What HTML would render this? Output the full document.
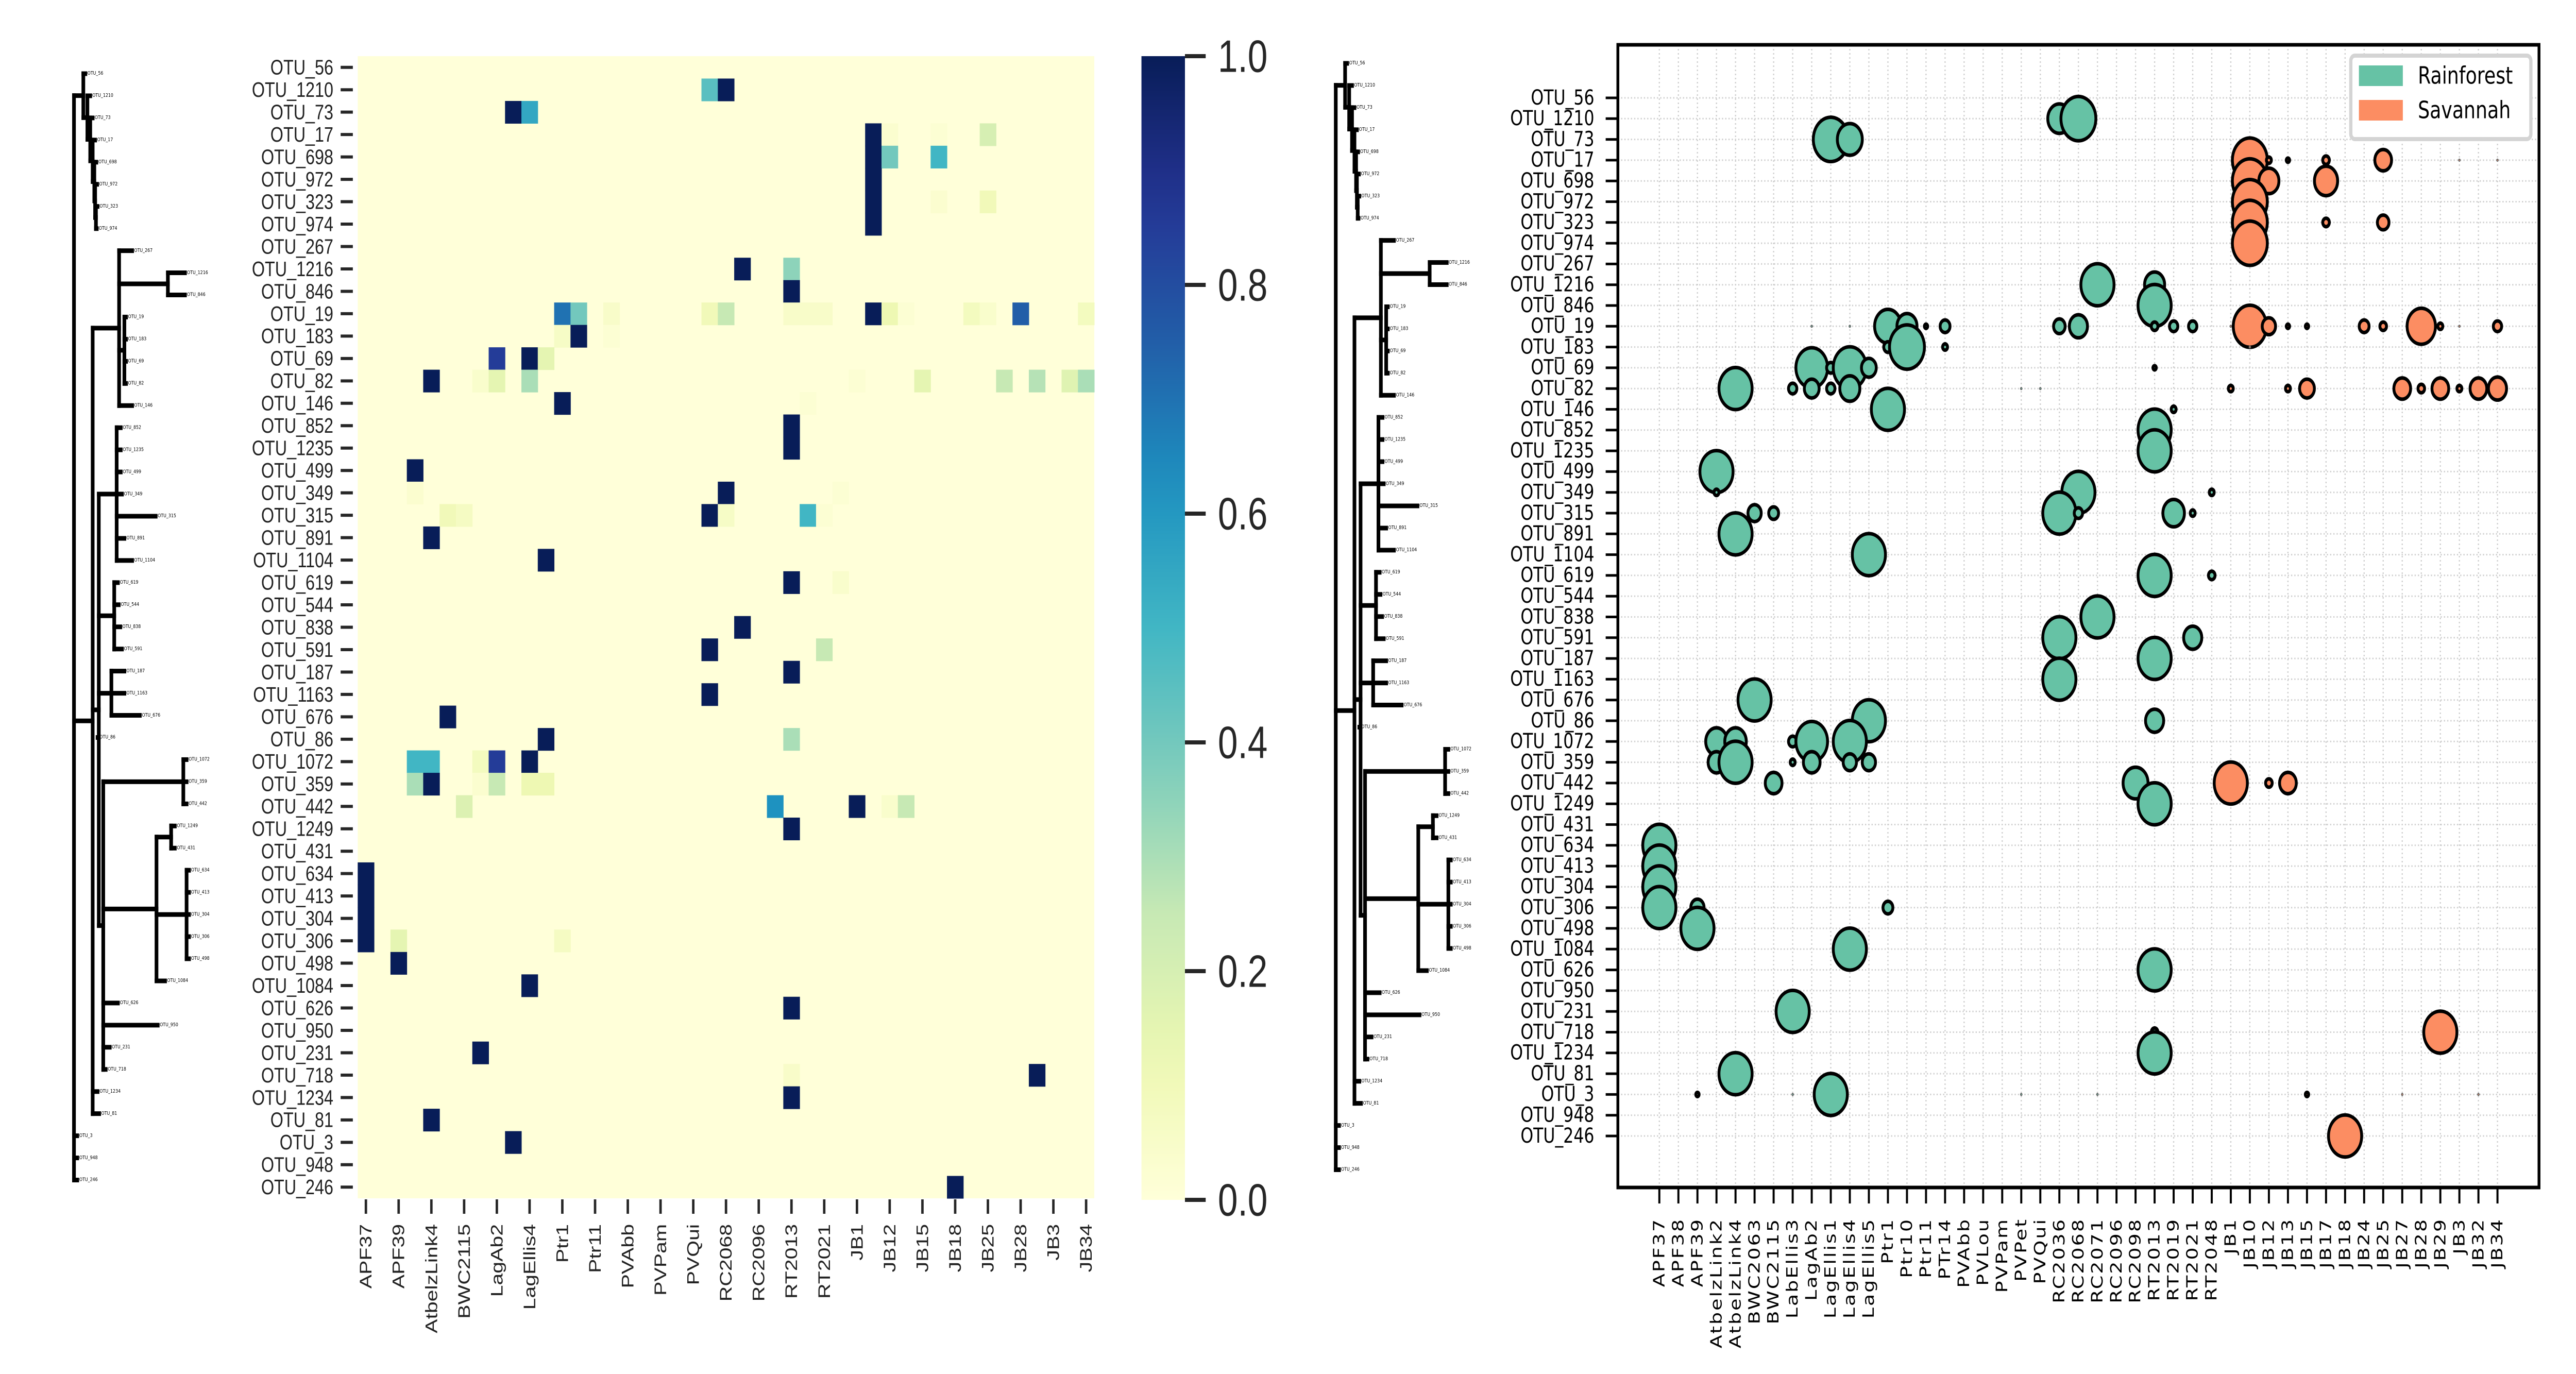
<!DOCTYPE html>
<html><head><meta charset="utf-8"><style>html,body{margin:0;padding:0;background:#fff;width:100%;height:100%;overflow:hidden}svg{display:block;position:fixed;left:0;top:0;width:100vw;height:100vh}</style></head>
<body>
<svg id="fig" xmlns="http://www.w3.org/2000/svg" viewBox="0 0 6337 2667" preserveAspectRatio="none">
<rect width="6337" height="2667" fill="#fff"/>
<g id="dendroL"></g>
<g id="heat"></g>
<g id="cbar"></g>
<g id="dendroM"></g>
<g id="bubble"></g>
</svg>
<script>
const otus = ["OTU_56","OTU_1210","OTU_73","OTU_17","OTU_698","OTU_972","OTU_323","OTU_974","OTU_267","OTU_1216","OTU_846","OTU_19","OTU_183","OTU_69","OTU_82","OTU_146","OTU_852","OTU_1235","OTU_499","OTU_349","OTU_315","OTU_891","OTU_1104","OTU_619","OTU_544","OTU_838","OTU_591","OTU_187","OTU_1163","OTU_676","OTU_86","OTU_1072","OTU_359","OTU_442","OTU_1249","OTU_431","OTU_634","OTU_413","OTU_304","OTU_306","OTU_498","OTU_1084","OTU_626","OTU_950","OTU_231","OTU_718","OTU_1234","OTU_81","OTU_3","OTU_948","OTU_246"];
const samples = ["APF37","APF38","APF39","AtbelzLink2","AtbelzLink4","BWC2063","BWC2115","LabEllis3","LagAb2","LagEllis1","LagEllis4","LagEllis5","Ptr1","Ptr10","Ptr11","PTr14","PVAbb","PVLou","PVPam","PVPet","PVQui","RC2036","RC2068","RC2071","RC2096","RC2098","RT2013","RT2019","RT2021","RT2048","JB1","JB10","JB12","JB13","JB15","JB17","JB18","JB24","JB25","JB27","JB28","JB29","JB3","JB32","JB34"];
const heatXLabels = ["APF37","APF39","AtbelzLink4","BWC2115","LagAb2","LagEllis4","Ptr1","Ptr11","PVAbb","PVPam","PVQui","RC2068","RC2096","RT2013","RT2021","JB1","JB12","JB15","JB18","JB25","JB28","JB3","JB34"];
const cbarTicks = [0,0.2,0.4,0.6,0.8,1.0];
const cbarTickLabels = ["0.0","0.2","0.4","0.6","0.8","1.0"];
const hRows = [1,1,2,2,3,3,3,3,4,4,4,5,6,6,6,7,9,9,10,11,11,11,11,11,11,11,11,11,11,11,11,11,11,11,12,12,12,13,13,13,14,14,14,14,14,14,14,14,14,14,15,15,16,17,18,19,19,19,20,20,20,20,20,20,21,22,23,23,25,26,26,27,28,29,30,30,31,31,31,31,31,32,32,32,32,32,32,33,33,33,33,33,34,36,37,38,39,39,39,40,41,42,44,45,45,46,47,48,50];
const hCols = [21,22,9,10,31,32,35,38,31,32,35,31,31,35,38,31,23,26,26,12,13,15,21,22,26,27,28,31,32,33,37,38,40,44,12,13,15,8,10,11,4,7,8,10,30,34,39,41,43,44,12,27,26,26,3,3,22,29,5,6,21,22,27,28,4,11,26,29,23,21,28,26,21,5,11,26,3,4,7,8,10,3,4,7,8,10,11,6,25,30,32,33,26,0,0,0,0,2,12,2,10,26,7,26,41,26,4,9,36];
const hVals = [0.45,1,1,0.55,1,0.03,0.02,0.2,1,0.4,0.5,1,1,0.03,0.1,1,1,0.35,1,0.7,0.4,0.05,0.1,0.25,0.05,0.05,0.05,1,0.12,0.02,0.08,0.04,0.75,0.08,0.06,1,0.02,0.85,1,0.15,1,0.04,0.15,0.3,0.02,0.15,0.25,0.28,0.17,0.3,1,0.02,1,1,1,0.03,1,0.02,0.1,0.07,1,0.06,0.5,0.02,1,1,1,0.04,1,1,0.25,1,1,1,1,0.3,0.5,0.5,0.08,0.85,1,0.3,1,0.03,0.25,0.12,0.12,0.18,0.62,1,0.04,0.25,1,1,1,1,1,0.15,0.07,1,1,1,1,0.05,1,1,1,1,1];
const bRows = [1,1,2,2,3,3,3,3,3,3,3,4,4,4,5,6,6,6,7,9,9,10,11,11,11,11,11,11,11,11,11,11,11,11,11,11,11,11,11,11,11,11,11,11,12,12,12,12,13,13,13,13,13,14,14,14,14,14,14,14,14,14,14,14,14,14,14,14,14,15,15,16,17,18,19,19,19,20,20,20,20,20,20,21,22,23,23,25,26,26,27,28,29,30,30,31,31,31,31,31,32,32,32,32,32,32,33,33,33,33,33,34,36,37,38,39,39,39,40,41,42,44,45,45,46,47,48,48,48,48,48,48,48,48,50];
const bCols = [21,22,9,10,31,32,33,35,38,42,44,31,32,35,31,31,35,38,31,23,26,26,8,10,12,13,14,15,21,22,26,27,28,30,31,32,33,34,37,38,40,41,42,44,12,13,15,31,8,9,10,11,26,4,7,8,9,10,19,20,30,33,34,39,40,41,42,43,44,12,27,26,26,3,3,22,29,5,6,21,22,27,28,4,11,26,29,23,21,28,26,21,5,11,26,3,4,7,8,10,3,4,7,8,10,11,6,25,30,32,33,26,0,0,0,0,2,12,2,10,26,7,26,41,26,4,2,7,9,19,23,34,39,43,36];
const bVals = [0.44,1,1,0.51,1,0.02,0.009,0.036,0.23,0.002,0.002,1,0.33,0.44,1,1,0.036,0.11,1,0.9,0.33,0.9,0.002,0.002,0.58,0.33,0.009,0.08,0.11,0.27,0.036,0.057,0.057,0.002,0.9,0.145,0.009,0.009,0.08,0.036,0.66,0.02,0.002,0.057,0.057,1,0.02,0.002,0.82,0.057,0.9,0.18,0.009,0.9,0.057,0.18,0.057,0.33,0.002,0.002,0.02,0.02,0.18,0.23,0.036,0.23,0.02,0.23,0.27,0.9,0.02,0.9,0.9,0.9,0.02,0.9,0.02,0.145,0.08,0.9,0.057,0.38,0.02,0.9,0.9,0.9,0.036,0.9,0.9,0.27,0.9,0.9,0.9,0.9,0.27,0.38,0.38,0.057,0.82,0.9,0.23,0.9,0.02,0.23,0.145,0.145,0.23,0.51,0.9,0.036,0.23,0.9,0.9,0.9,0.9,0.9,0.145,0.08,0.9,0.9,0.9,0.9,0.036,0.9,0.9,0.9,0.009,0.002,0.9,0.002,0.002,0.009,0.002,0.002,0.9];
const habitats = ["Rainforest","Savannah"];
const habitatColors = ["#66c2a5","#fc8d62"];

const NS="http://www.w3.org/2000/svg";
function mk(tag, attrs, parent){const e=document.createElementNS(NS,tag);for(const k in attrs)e.setAttribute(k,attrs[k]);parent.appendChild(e);return e;}

const cmStops=["#ffffd9","#edf8b1","#c7e9b4","#7fcdbb","#41b6c4","#1d91c0","#225ea8","#253494","#081d58"];
function hex2rgb(h){return [parseInt(h.substr(1,2),16),parseInt(h.substr(3,2),16),parseInt(h.substr(5,2),16)];}
function cmap(v){v=Math.max(0,Math.min(1,v));const p=v*8;const i=Math.min(7,Math.floor(p));const f=p-i;const a=hex2rgb(cmStops[i]),b=hex2rgb(cmStops[i+1]);return "rgb("+a.map((x,k)=>Math.round(x+(b[k]-x)*f)).join(",")+")";}

const heat=document.getElementById('heat');
const HX0=880,HY0=109,HX1=2692,HY1=2326;
const nC=samples.length,nR=otus.length;
const cw=(HX1-HX0)/nC,ch=(HY1-HY0)/nR;
const hx=c=>HX0+c*cw, hy=r=>HY0+r*ch;
const bg=mk('rect',{x:HX0,y:HY0,width:HX1-HX0,height:HY1-HY0,fill:cmap(0)},heat);


for(let i=0;i<hRows.length;i++){
  const r=mk('rect',{x:hx(hCols[i]),y:hy(hRows[i]),width:cw+0.6,height:ch+0.6,fill:cmap(hVals[i])},heat);
  
  
}
for(let r=0;r<nR;r++){
  const y=hy(r)+ch/2;
  const t=mk('line',{x1:838,x2:868,y1:y,y2:y,stroke:'#262626','stroke-width':6},heat);
  
  
  const l=mk('text',{x:820,y:y,'text-anchor':'end','dominant-baseline':'central','font-family':'Liberation Sans, sans-serif','font-size':41,fill:'#222'},heat);
  l.textContent=otus[r];
  
  
}
for(let k=0;k<heatXLabels.length;k++){
  const x=hx(2*k)+cw/2;
  const t=mk('line',{x1:x,x2:x,y1:2328,y2:2356,stroke:'#262626','stroke-width':6},heat);
  
  
  const l=mk('text',{transform:'translate('+x+',2376) rotate(-90)','text-anchor':'end','dominant-baseline':'central','font-family':'Liberation Sans, sans-serif','font-size':41,fill:'#222'},heat);
  l.textContent=heatXLabels[k];
  
  
}

const cbar=document.getElementById('cbar');
const CX0=2808,CX1=2915,CY0=109,CY1=2329;
const defs=mk('defs',{},cbar);
const grad=mk('linearGradient',{id:'ylgnbu',x1:0,y1:1,x2:0,y2:0},defs);
for(let i=0;i<=20;i++){mk('stop',{offset:(i/20),'stop-color':cmap(i/20)},grad);}
const cb=mk('rect',{x:CX0,y:CY0,width:CX1-CX0,height:CY1-CY0,fill:'url(#ylgnbu)'},cbar);


const cy=v=>CY1-(CY1-CY0)*v;
for(let i=0;i<cbarTicks.length;i++){
  const y=cy(cbarTicks[i]);
  const t=mk('line',{x1:CX1,x2:2966,y1:y,y2:y,stroke:'#262626','stroke-width':8},cbar);
  
  
  const l=mk('text',{x:2996,y:y,'dominant-baseline':'central','font-family':'Liberation Sans, sans-serif','font-size':88,fill:'#262626'},cbar);
  l.textContent=cbarTickLabels[i];
  
  
}

function L(i,x){return {leaf:i,x:x};}
function N(x,ch){return {x:x,ch:ch};}
const tree = N(182,[
  N(205,[L(0,210),N(215,[L(1,222),N(222,[L(2,228),N(228,[L(3,234),N(232,[L(4,237),N(234,[L(5,239),N(236,[L(6,240),L(7,238)])])])])])])]),
  N(228,[
    N(293,[L(8,325),N(413,[L(9,455),L(10,455)]),N(306,[L(11,310),L(12,310),L(13,310),L(14,310)]),L(15,325)]),
    N(243,[
      N(287,[L(16,297),L(17,297),L(18,297),L(19,300),L(20,383),L(21,306),L(22,325)]),
      N(281,[L(23,290),L(24,292),L(25,296),L(26,300)]),
      N(274,[L(27,306),L(28,306),L(29,344)]),
      L(30,240),
      N(254,[N(451,[L(31,459),L(32,459),L(33,459)]),
             N(385,[N(421,[L(34,430),L(35,430)]),N(459,[L(36,465),L(37,465),L(38,465),L(39,465),L(40,465)]),L(41,406)]),
             L(42,290),L(43,388),L(44,270),L(45,260)])
    ]),
    L(46,240),L(47,244)
  ]),
  L(48,190),L(49,190),L(50,190)
]);
function drawTree(g,dx,y0,sp){
  function yOf(n){if(n.leaf!==undefined)return y0+sp*n.leaf;const ys=n.ch.map(yOf);return (Math.min(...ys)+Math.max(...ys))/2;}
  function rec(n){
    if(n.leaf!==undefined){
      const lab=mk('text',{x:n.x+dx+5,y:yOf(n),'dominant-baseline':'central','font-family':'DejaVu Sans, sans-serif','font-size':10,fill:'#000'},g);
      lab.textContent=otus[n.leaf];
      
      
      return;
    }
    const ys=n.ch.map(yOf);
    const v=mk('line',{x1:n.x+dx,x2:n.x+dx,y1:Math.min(...ys),y2:Math.max(...ys),stroke:'#000','stroke-width':9,'stroke-linecap':'square'},g);
    
    
    n.ch.forEach((c,i)=>{
      const h=mk('line',{x1:n.x+dx,x2:c.x+dx,y1:ys[i],y2:ys[i],stroke:'#000','stroke-width':9,'stroke-linecap':'square'},g);
      
      
      rec(c);
    });
  }
  rec(tree);
}
drawTree(document.getElementById('dendroL'),0,143,42.95);
drawTree(document.getElementById('dendroM'),3104,123,42.95);

const bub=document.getElementById('bubble');
const AX0=3980,AX1=6246,AY0=87,AY1=2305;
const bx=c=>4082+c*46.86, by=r=>190+r*40.3;
for(let c=0;c<samples.length;c++){
  const g=mk('line',{x1:bx(c),x2:bx(c),y1:AY0,y2:AY1,stroke:'#cfcfcf','stroke-width':3,'stroke-dasharray':'3,5'},bub);
  
  
}
for(let r=0;r<otus.length;r++){
  const g=mk('line',{x1:AX0,x2:AX1,y1:by(r),y2:by(r),stroke:'#cfcfcf','stroke-width':3,'stroke-dasharray':'3,5'},bub);
  
  
}
for(let i=0;i<bRows.length;i++){
  const v=bVals[i];
  const rad=43*Math.sqrt(v);
  const col=habitatColors[bCols[i]>=30?1:0];
  const small=v<0.005;
  const c=mk('circle',{cx:bx(bCols[i]),cy:by(bRows[i]),r:Math.max(rad,2),fill:col,stroke:small?'#666':'#000','stroke-width':small?2:7},bub);
  
  
}
const frame=mk('rect',{x:AX0,y:AY0,width:AX1-AX0,height:AY1-AY0,fill:'none',stroke:'#000','stroke-width':7},bub);


for(let r=0;r<otus.length;r++){
  const t=mk('line',{x1:3950,x2:AX0,y1:by(r),y2:by(r),stroke:'#000','stroke-width':5},bub);
  
  
  const l=mk('text',{x:3922,y:by(r),'text-anchor':'end','dominant-baseline':'central','font-family':'DejaVu Sans, sans-serif','font-size':40,fill:'#000'},bub);
  l.textContent=otus[r];
  
  
}
for(let c=0;c<samples.length;c++){
  const t=mk('line',{x1:bx(c),x2:bx(c),y1:AY1,y2:2336,stroke:'#000','stroke-width':5},bub);
  
  
  const l=mk('text',{transform:'translate('+bx(c)+',2364) rotate(-90)','text-anchor':'end','dominant-baseline':'central','font-family':'DejaVu Sans, sans-serif','font-size':38,'letter-spacing':3,fill:'#000'},bub);
  l.textContent=samples[c];
  
  
}
const lg=mk('g',{},bub);


mk('rect',{x:5783,y:108,width:443,height:162,rx:10,fill:'#fff',stroke:'#d4d4d4','stroke-width':8},lg);
const lgY=[127,194];
for(let i=0;i<habitats.length;i++){
  const p=mk('rect',{x:5803,y:lgY[i],width:108,height:40,fill:habitatColors[i]},lg);
  
  
  const t=mk('text',{x:5948,y:lgY[i]+20,'dominant-baseline':'central','font-family':'DejaVu Sans, sans-serif','font-size':46,fill:'#000'},lg);
  t.textContent=habitats[i];
  
  
}
</script>
</body></html>
